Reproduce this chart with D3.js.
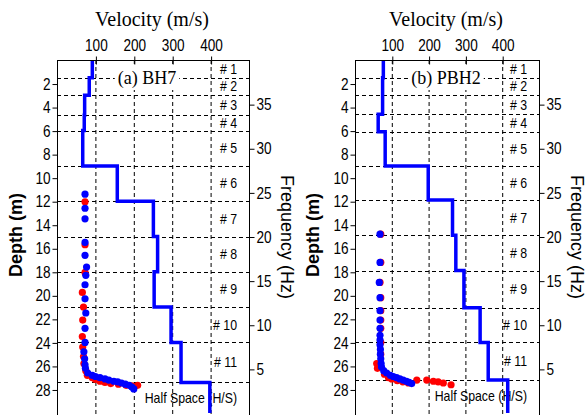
<!DOCTYPE html>
<html>
<head>
    <script src="https://d3js.org/d3.v7.min.js"></script>
    <style>
        body { margin: 0; background: #fff; }
        svg { display: block; }
        .tick text { font-family: "Liberation Sans", Arial, sans-serif; font-size: 16px; fill: #000; }
        .tick line, .domain { stroke: #000; }
    </style>
</head>
<body>
<svg id="chart" width="586" height="415"></svg>
<script>
    // axis ticks
    const velocityTicks = [100, 200, 300, 400];
    const depthTicks = [2, 4, 6, 8, 10, 12, 14, 16, 18, 20, 22, 24, 26, 28];
    const freqTicks = [5, 10, 15, 20, 25, 30, 35];
    const layerNames = ["# 1", "# 2", "# 3", "# 4", "# 5", "# 6", "# 7", "# 8", "# 9", "# 10", "# 11", "Half Space (H/S)"];

    // layer boundaries (m) and shear velocity (m/s) per layer
    const bh7Bounds = [0, 1.5, 3, 4.7, 6, 9, 12, 15, 18, 21, 24, 27.4, 30];
    const bh7Vs = [92, 84, 72, 71, 67, 157, 251, 262, 253, 297, 323, 398];
    const pbh2Bounds = [0, 1.5, 3, 4.6, 6.1, 9, 11.9, 14.9, 17.9, 21.05, 24, 27.2, 30];
    const pbh2Vs = [77, 75, 75, 63, 82, 199, 265, 274, 296, 340, 362, 415];

    // measured points [depth, velocity]
    const bh7Red = [[12.05, 73], [15.7, 73], [18.05, 73], [19.75, 66], [21.0, 69], [22.1, 67], [23.5, 66],
        [24.4, 67], [25.2, 69], [25.8, 70], [26.4, 75], [26.8, 79], [27.0, 92], [27.15, 100], [27.3, 112],
        [27.4, 125], [27.5, 140], [27.55, 160], [27.65, 180], [27.7, 195], [27.65, 210]];
    const bh7Blue = [[11.4, 73], [12.6, 73], [13.5, 73], [15.5, 73], [16.6, 73], [17.6, 77], [18.3, 75],
        [19.1, 73], [20.3, 73], [21.5, 75], [22.8, 73], [24.0, 73], [24.8, 70], [25.4, 72], [25.9, 73],
        [26.2, 74], [26.6, 80], [26.8, 92], [26.9, 100], [27.0, 112], [27.1, 125], [27.2, 135], [27.3, 148],
        [27.35, 158], [27.45, 168], [27.55, 178], [27.65, 188], [27.8, 195], [27.95, 200]];
    const pbh2Red = [[14.8, 70], [17.2, 70], [18.9, 68], [20.2, 70], [21.3, 70], [22.1, 70], [22.8, 70],
        [24.0, 70], [25.0, 70], [25.8, 59], [26.2, 61], [26.7, 80], [27.0, 91], [27.1, 100], [27.25, 115],
        [27.35, 130], [27.45, 145], [27.2, 168], [27.2, 195], [27.3, 213], [27.35, 226], [27.45, 240], [27.6, 261]];
    const pbh2Blue = [[14.8, 68], [17.2, 68], [18.9, 66], [20.2, 68], [21.3, 68], [22.1, 68], [22.8, 68],
        [23.4, 68], [23.8, 68], [24.2, 68], [24.6, 69], [25.0, 69], [25.4, 70], [25.8, 71], [26.1, 72],
        [26.4, 78], [26.6, 86], [26.8, 96], [26.9, 104], [27.0, 113], [27.1, 122], [27.2, 131], [27.3, 140],
        [27.4, 147], [27.5, 154]];

    const svg = d3.select("#chart");
    const sans = "'Liberation Sans', Arial, sans-serif";
    const serif = "'Liberation Serif', 'Times New Roman', serif";
    const plotTop = 60, plotBottom = 413;

    const panels = [
        {left: 57, right: 249, name: "(a) BH7", nameX: 147, bounds: bh7Bounds, vs: bh7Vs,
            red: bh7Red, blue: bh7Blue, depthX: 16, freqX: 287},
        {left: 355, right: 539, name: "(b) PBH2", nameX: 446, bounds: pbh2Bounds, vs: pbh2Vs,
            red: pbh2Red, blue: pbh2Blue, depthX: 313, freqX: 577}
    ];

    // squeeze tick labels horizontally (narrow face in original)
    function narrow(sel) {
        sel.selectAll(".tick text").each(function () {
            const t = d3.select(this);
            const tx = +t.attr("x") || 0;
            t.attr("x", null).attr("transform", `translate(${tx},0) scale(0.85,1)`);
        });
    }

    panels.forEach(p => {
        const x = d3.scaleLinear().domain([0, 500]).range([p.left, p.right]);
        const y = d3.scaleLinear().domain([0, 30]).range([plotTop, plotBottom]);
        const f = d3.scaleLinear().domain([0, 40]).range([plotBottom, plotTop]);
        const g = svg.append("g");

        // grid
        g.selectAll(".vgrid").data(velocityTicks).join("line")
            .attr("x1", d => x(d) + 0.5).attr("x2", d => x(d) + 0.5)
            .attr("y1", plotTop).attr("y2", 416)
            .attr("stroke", "#000").attr("stroke-dasharray", "4,3");
        g.selectAll(".hgrid").data(p.bounds.slice(1, -1)).join("line")
            .attr("x1", p.left).attr("x2", p.right)
            .attr("y1", d => Math.round(y(d)) + 0.5).attr("y2", d => Math.round(y(d)) + 0.5)
            .attr("stroke", "#000").attr("stroke-dasharray", "4,3");

        // layer labels at layer midpoints
        g.selectAll(".layer").data(layerNames).join("text")
            .attr("transform", (d, i) =>
                `translate(${p.right - 12},${y((p.bounds[i] + p.bounds[i + 1]) / 2)}) scale(0.88,1)`)
            .attr("dy", "0.35em")
            .attr("text-anchor", "end")
            .style("font-family", sans).style("font-size", "14px")
            .text(d => d);

        // panel name with white box
        const nameText = g.append("text")
            .attr("x", p.nameX).attr("y", 84)
            .attr("text-anchor", "middle")
            .style("font-family", serif).style("font-size", "18px")
            .text(p.name);
        const bb = nameText.node().getBBox();
        g.append("rect")
            .attr("x", bb.x - 3).attr("y", bb.y - 1)
            .attr("width", bb.width + 6).attr("height", bb.height + 2)
            .attr("fill", "#fff");
        nameText.raise();

        // velocity profile
        const steps = [];
        p.vs.forEach((v, i) => {
            steps.push([v, p.bounds[i]]);
            steps.push([v, p.bounds[i + 1]]);
        });
        g.append("path")
            .datum(steps)
            .attr("fill", "none").attr("stroke", "#0000ff").attr("stroke-width", 3.5)
            .attr("d", d3.line().x(d => x(d[0])).y(d => y(d[1])));

        // measured points
        g.selectAll(".red").data(p.red).join("circle")
            .attr("cx", d => x(d[1])).attr("cy", d => y(d[0])).attr("r", 3.6)
            .attr("fill", "#ff0000");
        g.selectAll(".blue").data(p.blue).join("circle")
            .attr("cx", d => x(d[1])).attr("cy", d => y(d[0])).attr("r", 3.6)
            .attr("fill", "#0000ff");

        // frame
        g.append("rect")
            .attr("x", p.left + 0.5).attr("y", plotTop + 0.5)
            .attr("width", p.right - p.left).attr("height", 420 - plotTop)
            .attr("fill", "none").attr("stroke", "#000");

        // axes
        const xAxis = g.append("g").attr("transform", `translate(0.5,${plotTop + 0.5})`)
            .call(d3.axisTop(x).tickValues(velocityTicks).tickSize(4).tickPadding(6));
        xAxis.select(".domain").remove();
        xAxis.selectAll(".tick line").attr("y1", 4);
        narrow(xAxis);

        const yAxis = g.append("g").attr("transform", `translate(${p.left + 0.5},0.5)`)
            .call(d3.axisLeft(y).tickValues(depthTicks).tickSize(5).tickPadding(2));
        yAxis.select(".domain").remove();
        narrow(yAxis);

        const fAxis = g.append("g").attr("transform", `translate(${p.right + 0.5},0.5)`)
            .call(d3.axisRight(f).tickValues(freqTicks).tickSize(5).tickPadding(2));
        fAxis.select(".domain").remove();
        narrow(fAxis);

        // titles
        g.append("text")
            .attr("x", (p.left + p.right) / 2 - 1).attr("y", 26)
            .attr("text-anchor", "middle")
            .style("font-family", serif).style("font-size", "20px")
            .text("Velocity (m/s)");
        g.append("text")
            .attr("transform", `translate(${p.depthX},235) rotate(-90)`)
            .attr("text-anchor", "middle").attr("dy", "0.35em")
            .style("font-family", sans).style("font-size", "18px").style("font-weight", "bold")
            .text("Depth (m)");
        g.append("text")
            .attr("transform", `translate(${p.freqX},237) rotate(90)`)
            .attr("text-anchor", "middle").attr("dy", "0.35em")
            .style("font-family", sans).style("font-size", "18px")
            .text("Frequency (Hz)");
    });
</script>
</body>
</html>
